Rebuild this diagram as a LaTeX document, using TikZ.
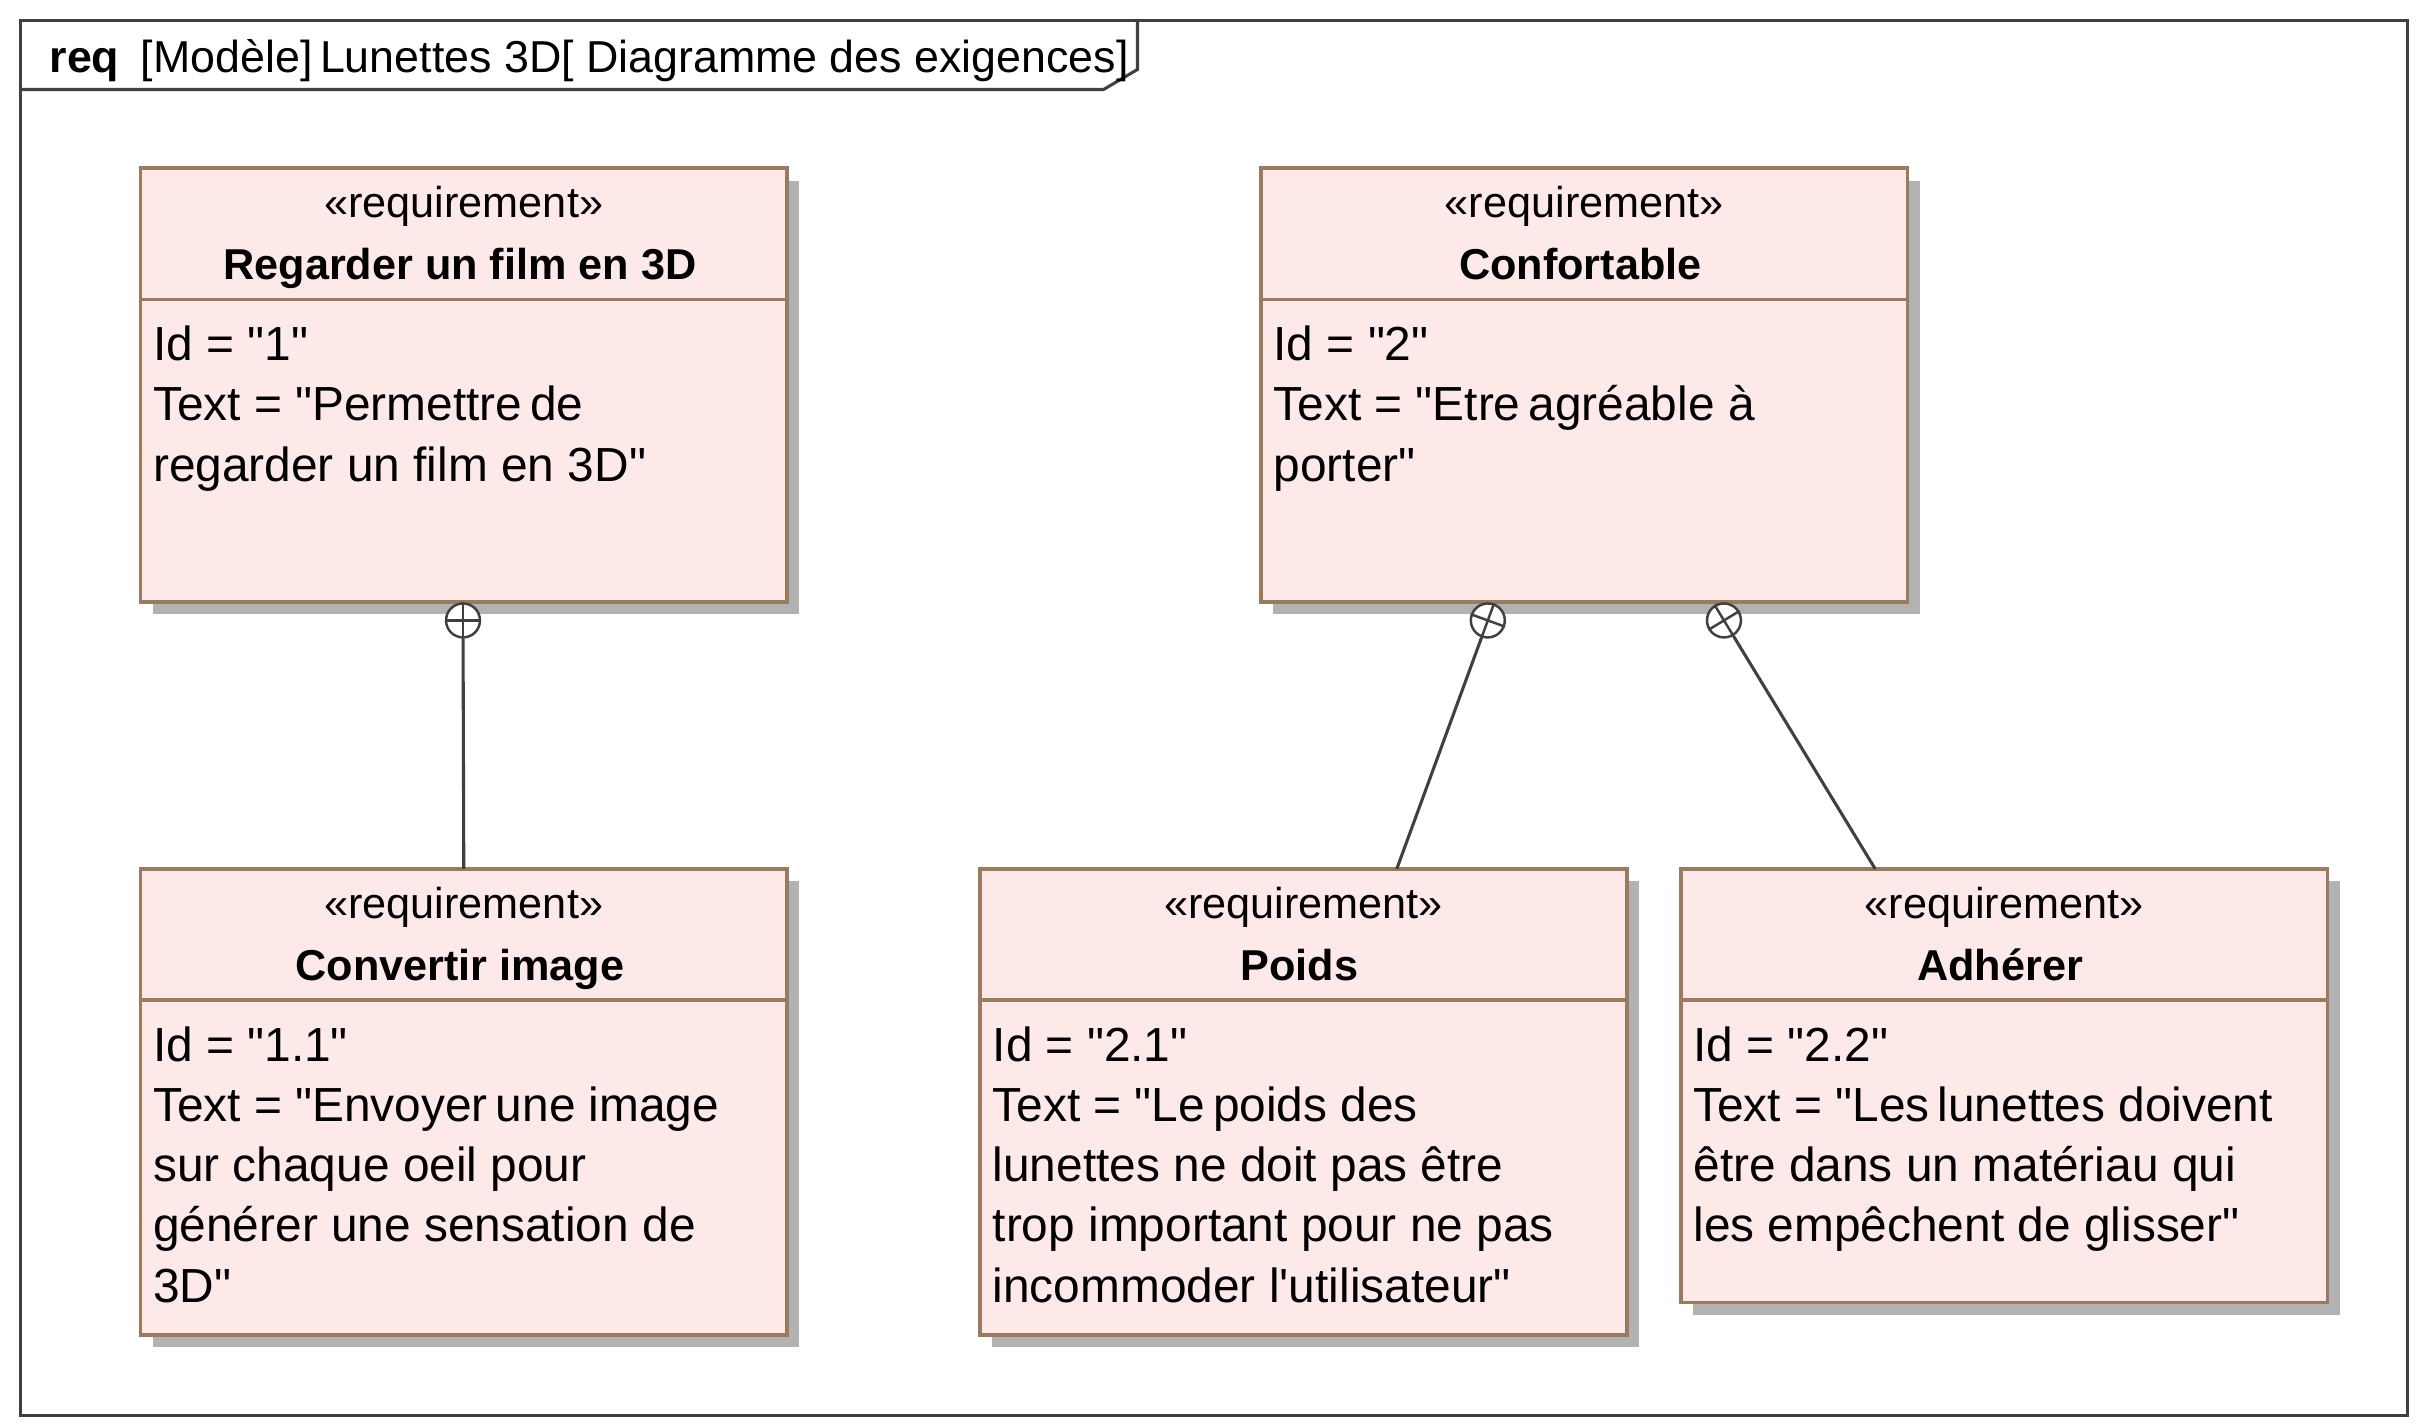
\documentclass[tikz,border=0pt]{standalone}
\usepackage{fontspec}
\setmainfont{Liberation Sans}[Ligatures=TeXOff]
\usetikzlibrary{shadows}

\definecolor{reqfill}{RGB}{253,234,232}
\definecolor{reqborder}{RGB}{155,122,94}
\definecolor{reqshadow}{RGB}{178,178,178}
\definecolor{linegray}{RGB}{64,64,64}

\tikzset{contain/.style={draw=linegray,fill=white,circle,line width=1.6pt,minimum size=22pt,inner sep=0pt}}
\tikzstyle{reqbox}=[draw=reqborder,fill=reqfill,line width=2.4pt,rectangle,anchor=north west,inner sep=0pt,outer sep=0pt,minimum width=419pt,
	drop shadow={shadow xshift=8pt,shadow yshift=-8pt,fill=reqshadow,opacity=1}]
\tikzstyle{stereo}=[anchor=base,inner sep=0pt,font=\fontsize{28}{34}\selectfont]
\tikzstyle{reqname}=[anchor=base,inner sep=0pt,font=\fontsize{28}{34}\selectfont\bfseries]
\tikzstyle{reqtext}=[anchor=north west,inner sep=0pt,align=left,font=\fontsize{31}{39}\selectfont]

\begin{document}
\begin{tikzpicture}[x=1pt,y=-1pt]
	\useasboundingbox (0,0) rectangle (1568,925);
	% frame and title tab
	\draw[linegray,line width=2pt] (13,13) rectangle (1560,917);
	\draw[linegray,line width=2pt] (13,58) -- (715,58) -- (737,45) -- (737,13);
	\node[anchor=base west,inner sep=0pt,font=\fontsize{29}{34}\selectfont] (title) at (32,47)
		{\textbf{req}\hspace{14pt}[Modèle]\,Lunettes 3D[ Diagramme des exigences]};
	% requirements
	\foreach \nr/\x/\y/\h/\name/\body in {
		1/91/109/281/{Regarder un film en 3D}/{Id = "1"\\Text = "Permettre\,de\\regarder un film en 3D"},
		2/817/109/281/{Confortable}/{Id = "2"\\Text = "Etre\,agréable à\\porter"},
		3/91/563/302/{Convertir image}/{Id = "1.1"\\Text = "Envoyer\,une image\\sur chaque oeil pour\\générer une sensation de\\3D"},
		4/635/563/302/{Poids}/{Id = "2.1"\\Text = "Le\,poids des\\lunettes ne doit pas être\\trop important pour ne pas\\incommoder l'utilisateur"},
		5/1089/563/281/{Adhérer}/{Id = "2.2"\\Text = "Les\,lunettes doivent\\être dans un matériau qui\\les empêchent de glisser"}}{
		\node[reqbox,minimum height=\h pt] (R\nr) at (\x,\y) {};
		\draw[reqborder,line width=2.4pt] (R\nr.north west) ++(0,85) -- ++(419,0);
		\node[stereo] (S\nr) at (\x+209.5,\y+32) {«requirement»};
		\node[reqname] (N\nr) at (\x+207,\y+72) {\name};
		\node[reqtext] (B\nr) at (\x+8,\y+102) {\body};
	}
	% containment links
	\node[contain] (c1) at (300,402) {};
	\node[contain,rotate=-20.1] (c2) at (964,402) {};
	\node[contain,rotate=31.3] (c3) at (1117,402) {};
	\coordinate (p4) at (905,563);
	\coordinate (p5) at (1215,563);
	\foreach \c in {c1,c2,c3}
		\draw[linegray,line width=1.6pt] (\c.north) -- (\c.south) (\c.east) -- (\c.west);
	\draw[linegray,line width=2pt] (c1) -- (R3.north);
	\draw[linegray,line width=2pt] (c2) -- (p4);
	\draw[linegray,line width=2pt] (c3) -- (p5);
\end{tikzpicture}
\end{document}
